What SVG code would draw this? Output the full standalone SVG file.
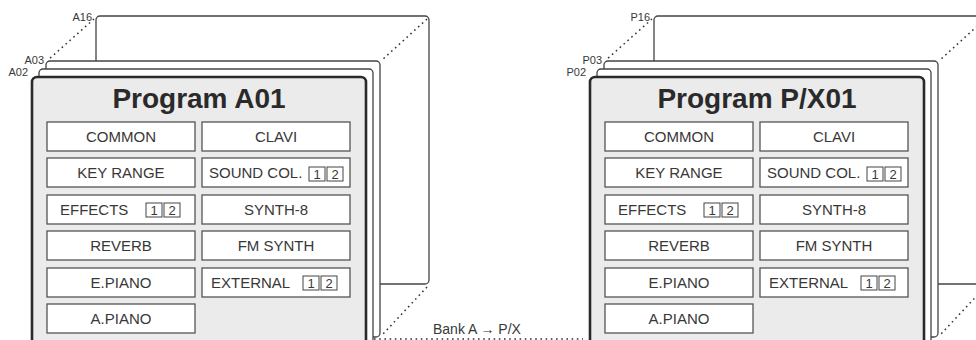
<svg xmlns="http://www.w3.org/2000/svg" width="976" height="340" viewBox="0 0 976 340">
<style>
text{font-family:"Liberation Sans",Arial,sans-serif;fill:#383838}
.card{fill:#fff;stroke:#444;stroke-width:1.3}
.prog{fill:#ebebeb;stroke:#2a2a2a;stroke-width:2.6}
.btn{fill:#fff;stroke:#555;stroke-width:1.3}
.sub{fill:#fff;stroke:#444;stroke-width:1}
.dot{fill:none;stroke:#333;stroke-width:1.5;stroke-dasharray:1.6 3.6}
.lbl{font-size:11px;text-anchor:end}
.title{font-size:28px;font-weight:bold;text-anchor:middle;fill:#2a2a2a}
.bt{font-size:15px;text-anchor:middle}
.bl{font-size:15px}
.dg{font-size:13px;text-anchor:middle}
</style>
<defs>
<g id="grid">
<rect class="btn" x="47" y="122" width="148" height="29"/>
<rect class="btn" x="202" y="122" width="148" height="29"/>
<rect class="btn" x="47" y="158" width="148" height="29"/>
<rect class="btn" x="202" y="158" width="148" height="29"/>
<rect class="btn" x="47" y="195" width="148" height="29"/>
<rect class="btn" x="202" y="195" width="148" height="29"/>
<rect class="btn" x="47" y="231" width="148" height="29"/>
<rect class="btn" x="202" y="231" width="148" height="29"/>
<rect class="btn" x="47" y="268" width="148" height="29"/>
<rect class="btn" x="202" y="268" width="148" height="29"/>
<rect class="btn" x="47" y="304" width="148" height="29"/>
<text class="bt" x="121" y="142">COMMON</text>
<text class="bt" x="276" y="142">CLAVI</text>
<text class="bt" x="121" y="178">KEY RANGE</text>
<text class="bl" x="209" y="178">SOUND COL.</text>
<rect class="sub" x="309" y="167" width="16" height="14"/>
<rect class="sub" x="327" y="167" width="16" height="14"/>
<text class="dg" x="317" y="179">1</text>
<text class="dg" x="335" y="179">2</text>
<text class="bl" x="60" y="215">EFFECTS</text>
<rect class="sub" x="146" y="203" width="16" height="14"/>
<rect class="sub" x="164" y="203" width="16" height="14"/>
<text class="dg" x="154" y="215">1</text>
<text class="dg" x="172" y="215">2</text>
<text class="bt" x="276" y="215">SYNTH-8</text>
<text class="bt" x="121" y="251">REVERB</text>
<text class="bt" x="276" y="251">FM SYNTH</text>
<text class="bt" x="121" y="288">E.PIANO</text>
<text class="bl" x="211" y="288">EXTERNAL</text>
<rect class="sub" x="303" y="276" width="16" height="14"/>
<rect class="sub" x="321" y="276" width="16" height="14"/>
<text class="dg" x="311" y="288">1</text>
<text class="dg" x="329" y="288">2</text>
<text class="bt" x="121" y="324">A.PIANO</text>
</g>
<g id="cards">
<rect class="card" x="96" y="16" width="333" height="268" rx="4"/>
<path class="dot" d="M94 19 L48 60"/>
<path class="dot" d="M427 19 L382 60"/>
<path class="dot" d="M427 287 L383 334"/>
<rect class="card" x="46" y="61" width="334" height="276" rx="4"/>
<rect class="card" x="39" y="69" width="334" height="285" rx="4"/>
</g>
</defs>
<g id="connectors">
<path class="dot" d="M374 339 H583" stroke-dasharray="2 3"/>
<text id="bank-label" x="433" y="334" style="font-size:14px">Bank A → P/X</text>
</g>
<g id="bank-a">
<use href="#cards"/>
<text class="lbl" x="92" y="21">A16</text>
<text class="lbl" x="44" y="64">A03</text>
<text class="lbl" x="28" y="76">A02</text>
<g id="program-a01">
<rect class="prog" x="32" y="77" width="334" height="280" rx="5"/>
<text class="title" x="199" y="108">Program A01</text>
<use href="#grid"/>
</g>
</g>
<g id="bank-px" transform="translate(558,0)">
<use href="#cards"/>
<text class="lbl" x="92" y="21">P16</text>
<text class="lbl" x="44" y="64">P03</text>
<text class="lbl" x="28" y="76">P02</text>
<g id="program-px01">
<rect class="prog" x="32" y="77" width="334" height="280" rx="5"/>
<text class="title" x="199" y="108">Program P/X01</text>
<use href="#grid"/>
</g>
</g>
</svg>
